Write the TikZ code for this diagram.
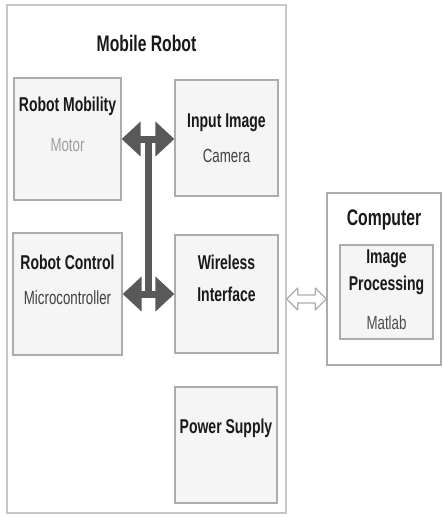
\documentclass[tikz,border=0pt]{standalone}
\usepackage{fontspec}
\setmainfont{Liberation Sans}[FakeStretch=0.7]
\usetikzlibrary{arrows.meta, calc}

\tikzset{
	outerbox/.style={shape=rectangle, draw=gray!45, line width=1.5pt, inner sep=0pt},
	blockbox/.style={shape=rectangle, draw=gray!65, fill=gray!8, line width=1.3pt, inner sep=0pt},
	headtext/.style={anchor=base, inner sep=0pt, text=black!90, font=\bfseries\fontsize{20}{24}\selectfont},
	subtext/.style={anchor=base, inner sep=0pt, font=\fontsize{19}{23}\selectfont},
	titletext/.style={anchor=base, inner sep=0pt, text=black!90, font=\bfseries\fontsize{22.5}{27}\selectfont},
	busline/.style={draw=black!65, line width=7pt},
	busarrow/.style={busline, {Triangle[length=19pt, width=34pt]}-{Triangle[length=19pt, width=34pt]}},
	hollowlink/.style={draw=gray!65, fill=white, line width=1.2pt, line join=round},
}

\begin{document}
\begin{tikzpicture}[x=1pt, y=-1pt]
	% Frame and boxes:
	\useasboundingbox (0, 0) rectangle (443, 517);

	\node[outerbox, minimum width=279pt, minimum height=508pt](robot) at (146.5, 259){};
	\node[blockbox, minimum width=107pt, minimum height=122pt](mob) at (67.5, 139){};
	\node[blockbox, minimum width=103pt, minimum height=116pt](cam) at (226.5, 138){};
	\node[blockbox, minimum width=109pt, minimum height=122pt](ctl) at (67.5, 294){};
	\node[blockbox, minimum width=103pt, minimum height=118pt](wif) at (226.5, 294){};
	\node[blockbox, minimum width=102pt, minimum height=116pt](pwr) at (226, 445){};
	\node[outerbox, draw=gray!65, minimum width=114pt, minimum height=172pt](comp) at (384, 279){};
	\node[blockbox, minimum width=93pt, minimum height=94pt](imp) at (386.5, 292){};

	% Texts:
	\node[titletext](robotT) at ([yshift=-47pt]robot.north){Mobile Robot};
	\node[headtext](mobT) at ([yshift=-34pt]mob.north){Robot Mobility};
	\node[subtext, text=gray!75](mobS) at ([yshift=-74pt]mob.north){Motor};
	\node[headtext](camT) at ([yshift=-48pt]cam.north){Input Image};
	\node[subtext, text=black!75](camS) at ([yshift=-83pt]cam.north){Camera};
	\node[headtext](ctlT) at ([yshift=-37pt]ctl.north){Robot Control};
	\node[subtext, text=black!75](ctlS) at ([yshift=-72pt]ctl.north){Microcontroller};
	\node[headtext](wifT) at ([yshift=-35pt]wif.north){Wireless};
	\node[headtext](wifS) at ([yshift=-67pt]wif.north){Interface};
	\node[headtext](pwrT) at ([yshift=-47pt]pwr.north){Power Supply};
	\node[titletext](compT) at ([yshift=-33pt]comp.north){Computer};
	\node[headtext](impT) at ([yshift=-19pt]imp.north){Image};
	\node[headtext](impU) at ([yshift=-46pt]imp.north){Processing};
	\node[subtext, text=black!70](impS) at ([yshift=-85pt]imp.north){Matlab};

	% Bus and links:
	\coordinate (bus) at ($(mob.east)!0.5!(mob.east -| cam.west)$);
	\fill[black!65] ($(bus)+(-3.5, 0)$) rectangle ($(bus |- ctl.east)+(3.5, 0)$);
	\draw[busarrow] (mob.east) -- (mob.east -| cam.west);
	\draw[busarrow] (ctl.east) -- (ctl.east -| wif.west);
	\coordinate (lk) at ([yshift=-5pt]wif.east);
	\coordinate (lkA) at (lk -| robot.east);
	\coordinate (lkB) at (lk -| comp.west);
	\draw[hollowlink] (lkA) -- ++(11, -11) -- ++(0, 7) -- ($(lkB)+(-11, -4)$) -- ++(0, -7) -- (lkB)
		-- ++(-11, 11) -- ++(0, -7) -- ($(lkA)+(11, 4)$) -- ++(0, 7) -- cycle;
\end{tikzpicture}
\end{document}
